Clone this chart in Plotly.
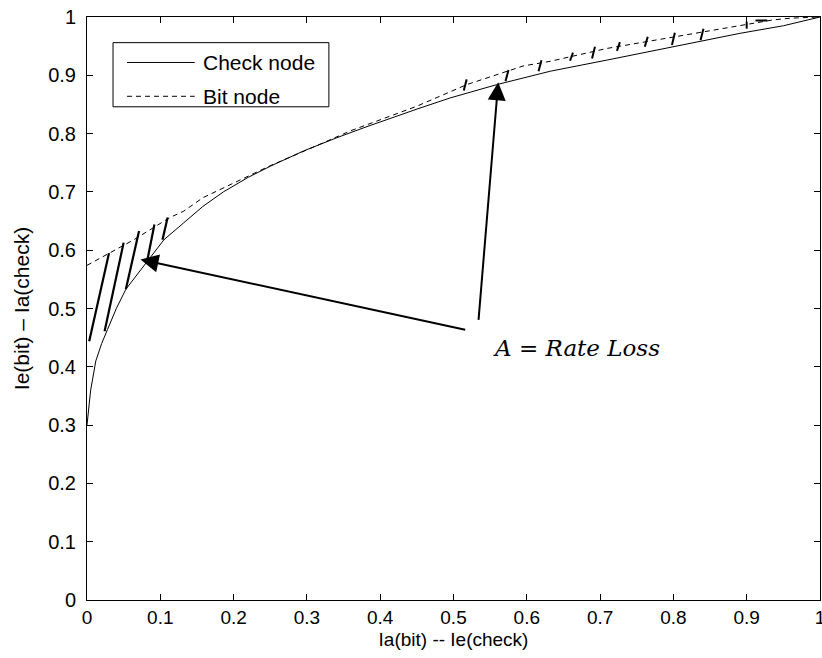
import plotly.graph_objects as go

# ---- data ----
check_x = [0, 0.002, 0.005, 0.012, 0.02, 0.028, 0.04, 0.053, 0.065, 0.078, 0.09, 0.105, 0.132, 0.158,
           0.186, 0.22, 0.25, 0.295, 0.341, 0.382, 0.45, 0.495, 0.559, 0.632, 0.709, 0.8, 0.891, 0.95, 1.0]
check_y = [0.30, 0.33, 0.36, 0.41, 0.44, 0.464, 0.50, 0.533, 0.553, 0.573, 0.595, 0.618, 0.647, 0.675,
           0.70, 0.725, 0.744, 0.77, 0.793, 0.812, 0.842, 0.861, 0.884, 0.907, 0.926, 0.949, 0.972, 0.985, 1.0]

bit_x = [0, 0.064, 0.113, 0.132, 0.158, 0.2, 0.25, 0.3, 0.36, 0.45, 0.518, 0.595, 0.632, 0.709,
         0.8, 0.891, 0.936, 0.96, 1.0]
bit_y = [0.574, 0.618, 0.656, 0.667, 0.69, 0.715, 0.745, 0.772, 0.805, 0.847, 0.884, 0.916, 0.924, 0.946,
         0.966, 0.986, 0.995, 0.998, 1.0]

# hatch segments (lower region, thick)
hatch_lo_x0 = [0.003, 0.024, 0.053, 0.082, 0.103]
hatch_lo_y0 = [0.444, 0.461, 0.533, 0.581, 0.618]
hatch_lo_x1 = [0.030, 0.050, 0.071, 0.092, 0.110]
hatch_lo_y1 = [0.595, 0.613, 0.633, 0.644, 0.656]

# hatch ticks (upper region, short)
hatch_up_x0 = [0.518, 0.575, 0.620, 0.663, 0.693, 0.727, 0.765, 0.802, 0.841, 0.900, 0.912]
hatch_up_y0 = [0.893, 0.909, 0.926, 0.939, 0.949, 0.957, 0.966, 0.973, 0.980, 0.992, 0.994]
hatch_up_x1 = [0.514, 0.571, 0.616, 0.659, 0.689, 0.723, 0.761, 0.798, 0.837, 0.900, 0.928]
hatch_up_y1 = [0.874, 0.890, 0.907, 0.925, 0.929, 0.942, 0.949, 0.952, 0.960, 0.980, 0.994]

x_ticks = [0, 0.1, 0.2, 0.3, 0.4, 0.5, 0.6, 0.7, 0.8, 0.9, 1]
x_tick_labels = ["0", "0.1", "0.2", "0.3", "0.4", "0.5", "0.6", "0.7", "0.8", "0.9", "1"]
y_ticks = [0, 0.1, 0.2, 0.3, 0.4, 0.5, 0.6, 0.7, 0.8, 0.9, 1]
y_tick_labels = ["0", "0.1", "0.2", "0.3", "0.4", "0.5", "0.6", "0.7", "0.8", "0.9", "1"]

# arrows: (tail_x, tail_y, head_x, head_y)
arrow_tail_x = [0.518, 0.534]
arrow_tail_y = [0.463, 0.478]
arrow_head_x = [0.073, 0.561]
arrow_head_y = [0.584, 0.888]

label_x, label_y = 0.668, 0.433
label_text = "<i>A</i> = <i>Rate Loss</i>"

legend_names = ["Check node", "Bit node"]

FONT = "Liberation Sans, Arial, sans-serif"

fig = go.Figure()
fig.add_trace(go.Scatter(x=check_x, y=check_y, mode="lines", name=legend_names[0],
                         line=dict(color="black", width=1), showlegend=False))
fig.add_trace(go.Scatter(x=bit_x, y=bit_y, mode="lines", name=legend_names[1],
                         line=dict(color="black", width=1, dash="5px,4px"), showlegend=False))

for x0, y0, x1, y1 in zip(hatch_lo_x0, hatch_lo_y0, hatch_lo_x1, hatch_lo_y1):
    fig.add_shape(type="line", x0=x0, y0=y0, x1=x1, y1=y1, xref="x", yref="y",
                  line=dict(color="black", width=2.2))
for x0, y0, x1, y1 in zip(hatch_up_x0, hatch_up_y0, hatch_up_x1, hatch_up_y1):
    fig.add_shape(type="line", x0=x0, y0=y0, x1=x1, y1=y1, xref="x", yref="y",
                  line=dict(color="black", width=2))

for tx, ty, hx, hy in zip(arrow_tail_x, arrow_tail_y, arrow_head_x, arrow_head_y):
    fig.add_annotation(x=hx, y=hy, ax=tx, ay=ty, xref="x", yref="y", axref="x", ayref="y",
                       text="", showarrow=True, arrowhead=2, arrowsize=1.8, arrowwidth=2,
                       arrowcolor="black", standoff=0)

fig.add_annotation(x=label_x, y=label_y, xref="x", yref="y", text=label_text, showarrow=False,
                   font=dict(family="DejaVu Serif, serif", size=23, color="black"))

# manual legend
fig.add_shape(type="rect", x0=0.0355, x1=0.330, y0=0.846, y1=0.956, xref="paper", yref="paper",
              line=dict(color="black", width=1), fillcolor="white", layer="above")
fig.add_shape(type="line", x0=0.0546, x1=0.147, y0=0.922, y1=0.922, xref="paper", yref="paper",
              line=dict(color="black", width=1))
fig.add_shape(type="line", x0=0.0546, x1=0.147, y0=0.864, y1=0.864, xref="paper", yref="paper",
              line=dict(color="black", width=1, dash="5px,4px"))
fig.add_annotation(x=0.156, y=0.922, xref="paper", yref="paper", text=legend_names[0],
                   showarrow=False, xanchor="left", yanchor="middle",
                   font=dict(family=FONT, size=21, color="black"))
fig.add_annotation(x=0.156, y=0.864, xref="paper", yref="paper", text=legend_names[1],
                   showarrow=False, xanchor="left", yanchor="middle",
                   font=dict(family=FONT, size=21, color="black"))

axis_common = dict(range=[0, 1], showgrid=False, zeroline=False, showline=True, linecolor="black",
                   linewidth=1, mirror="ticks", ticks="inside", ticklen=6, tickcolor="black",
                   ticklabeloverflow="allow", automargin=False)
fig.update_xaxes(**axis_common, tickvals=x_ticks, ticktext=x_tick_labels,
                 tickfont=dict(family=FONT, size=19, color="black"),
                 title=dict(text="Ia(bit) -- Ie(check)", font=dict(family=FONT, size=19, color="black"),
                            standoff=5))
fig.update_yaxes(**axis_common, tickvals=y_ticks, ticktext=y_tick_labels,
                 tickfont=dict(family=FONT, size=20, color="black"), ticklabelstandoff=6,
                 title=dict(text="Ie(bit) – Ia(check)", font=dict(family=FONT, size=21, color="black"),
                            standoff=12))

fig.update_layout(width=822, height=658, margin=dict(l=87, r=2, t=17, b=58),
                  plot_bgcolor="white", paper_bgcolor="white", showlegend=False)

fig.write_html("out.html")
